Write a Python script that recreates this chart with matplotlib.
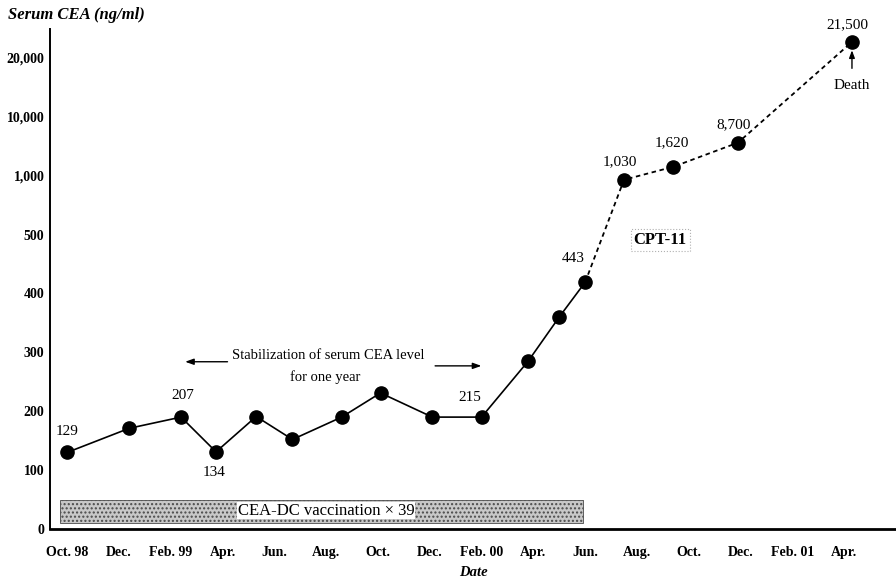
import numpy as np
import matplotlib
matplotlib.use("Agg")
import matplotlib.pyplot as plt
from matplotlib.patches import Rectangle

# ---------------- data ----------------
# x: months since Oct. 98, y: serum CEA (ng/ml)
months = [0, 2.4, 4.4, 5.75, 7.3, 8.7, 10.6, 12.1, 14.1, 16.0, 17.8, 19.0, 20.0,
          21.5, 23.4, 25.9, 30.3]
cea = [130, 171, 190, 131, 191, 152, 190, 231, 190, 190, 285, 360, 419,
       965, 2350, 6040, 22700]
solid_end = 12          # points 0..12 solid, 12.. dashed (after CPT-11)

x_tick_pos = list(range(0, 31, 2))
x_tick_labels = ["Oct. 98", "Dec.", "Feb. 99", "Apr.", "Jun.", "Aug.", "Oct.", "Dec.",
                 "Feb. 00", "Apr.", "Jun.", "Aug.", "Oct.", "Dec.", "Feb. 01", "Apr."]
y_ticks = [0, 100, 200, 300, 400, 500, 1000, 10000, 20000]
y_tick_labels = ["0", "100", "200", "300", "400", "500", "1,000", "10,000", "20,000"]

# labelled points: (index, text, dx px, dy px)
point_labels = [(0, "129", 0, 21), (2, "207", 2, 22), (3, "134", -2, -21),
                (9, "215", -12, 20), (12, "443", -12, 24), (13, "1,030", -4, 18),
                (14, "1,620", -1, 24), (15, "8,700", -4, 18), (16, "21,500", -5, 17)]

# ---------------- scale ----------------
scale_vals = y_ticks + [30000]
scale_idx = list(range(len(scale_vals)))

def fwd(v):
    return np.interp(v, scale_vals, scale_idx)

def inv(i):
    return np.interp(i, scale_idx, scale_vals)

serif = "Liberation Serif"
plt.rcParams["font.family"] = [serif, "DejaVu Serif"]

fig = plt.figure(figsize=(8.96, 5.80), dpi=100)
ax = fig.add_axes([50 / 896, 51 / 580, 846 / 896, 500 / 580])
ax.set_yscale("function", functions=(fwd, inv))
ax.set_ylim(0, inv(8.49))
ax.set_xlim(-0.66, 32.0)

# line
ax.plot(months[:solid_end + 1], cea[:solid_end + 1], color="black", lw=1.2,
        solid_capstyle="round", zorder=3)
ax.plot(months[solid_end:], cea[solid_end:], color="black", lw=1.3,
        linestyle=(0, (2.5, 2)), zorder=3)
ax.plot(months, cea, "o", color="black", ms=9.5, zorder=4)

for idx, txt, dx, dy in point_labels:
    ax.annotate(txt, xy=(months[idx], cea[idx]), xytext=(dx * 0.72, dy * 0.72),
                textcoords="offset points", ha="center", va="center",
                fontsize=11, family=serif)

# axes styling
for s in ["top", "right"]:
    ax.spines[s].set_visible(False)
ax.spines["left"].set_linewidth(1.4)
ax.spines["bottom"].set_linewidth(2.0)
ax.set_xticks(x_tick_pos)
ax.set_xticklabels(x_tick_labels, fontsize=10, fontweight="bold", family=serif)
ax.set_yticks(y_ticks)
ax.set_yticklabels(y_tick_labels, fontsize=10, fontweight="bold", family=serif)
ax.minorticks_off()
ax.tick_params(axis="x", length=0, pad=12)
ax.tick_params(axis="y", length=0, pad=4)

# stabilization annotation
ax.text(10.1, 294, "Stabilization of serum CEA level", ha="center", va="center",
        fontsize=10.5, family=serif)
ax.text(9.96, 258, "for one year", ha="center", va="center", fontsize=10.5, family=serif)
ax.annotate("", xy=(4.45, 284), xytext=(6.3, 284),
            arrowprops=dict(arrowstyle="-|>,head_length=0.5,head_width=0.18",
                            color="black", lw=1.0))
ax.annotate("", xy=(16.1, 277), xytext=(14.1, 277),
            arrowprops=dict(arrowstyle="-|>,head_length=0.5,head_width=0.18",
                            color="black", lw=1.0))

# vaccination bar
ax.add_patch(Rectangle((-0.27, 10), 20.2, 39, facecolor="#c8c8c8", edgecolor="#4a4a4a",
                       hatch="....", lw=0.6, zorder=2))
ax.text(10.0, 31, "CEA-DC vaccination \u00d7 39", ha="center", va="center",
        fontsize=12, family=serif, zorder=3,
        bbox=dict(facecolor="white", edgecolor="none", pad=0.5))

# CPT-11
ax.text(22.9, 491, "CPT-11", ha="center", va="center", fontsize=12,
        fontweight="bold", family=serif,
        bbox=dict(facecolor="white", edgecolor="#b0b0b0", linestyle=":", lw=0.8,
                  pad=2))

# Death
ax.annotate("Death", xy=(months[-1], cea[-1]), xytext=(0, -44 * 0.72),
            textcoords="offset points", ha="center", va="center", fontsize=11,
            family=serif,
            arrowprops=dict(arrowstyle="-|>,head_length=0.4,head_width=0.15",
                            color="black", lw=1.0, shrinkA=6, shrinkB=6))

fig.text(8 / 896, 1 - 15 / 580, "Serum CEA (ng/ml)", fontsize=12, fontweight="bold",
         fontstyle="italic", family=serif, ha="left", va="center")
fig.text(473 / 896, 1 - 572 / 580, "Date", fontsize=10.5, fontweight="bold",
         fontstyle="italic", family=serif, ha="center", va="center")

fig.savefig("out.png", dpi=100)
